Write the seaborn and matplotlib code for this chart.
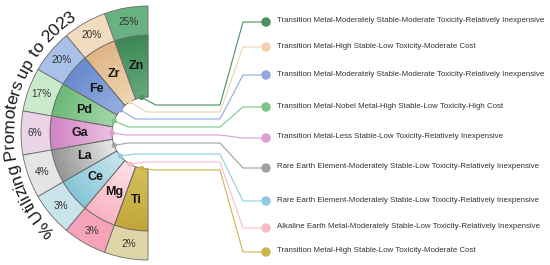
import numpy as np
import pandas as pd
import seaborn as sns
import matplotlib.pyplot as plt
from matplotlib.colors import to_rgb
from matplotlib.font_manager import FontProperties

# --- data ---------------------------------------------------------------
elements = ["Zn", "Zr", "Fe", "Pd", "Ga", "La", "Ce", "Mg", "Ti"]
usage_pct = [25, 20, 20, 17, 6, 4, 3, 3, 2]
descriptions = [
    "Transition Metal-Moderately Stable-Moderate Toxicity-Relatively Inexpensive",
    "Transition Metal-High Stable-Low Toxicity-Moderate Cost",
    "Transition Metal-Moderately Stable-Moderate Toxicity-Relatively Inexpensive",
    "Transition Metal-Nobel Metal-High Stable-Low Toxicity-High Cost",
    "Transition Metal-Less Stable-Low Toxicity-Relatively Inexpensive",
    "Rare Earth Element-Moderately Stable-Low Toxicity-Relatively Inexpensive",
    "Rare Earth Element-Moderately Stable-Low Toxicity-Relatively Inexpensive",
    "Alkaline Earth Metal-Moderately Stable-Low Toxicity-Relatively Inexpensive",
    "Transition Metal-High Stable-Low Toxicity-Moderate Cost",
]
title_text = "% Utilizing Promoters up to 2023"

# colours (inner ring dark edge / light hub side, outer ring, legend dot)
inner_dark = ["#3e8858", "#dfb684", "#6a8ad0", "#6cba78", "#d185c4",
              "#979797", "#86c6d8", "#f8b4c4", "#c2a63a"]
inner_light = ["#62a97a", "#efd5b2", "#93addf", "#a2d6a8", "#ebbfe2",
               "#e6e6e6", "#c6e5ec", "#fde0e7", "#d4bf5c"]
outer_colors = ["#68b282", "#f1dcbf", "#a9c1e8", "#c9ebcb", "#ebd4e7",
                "#e5e5e5", "#c9e4ea", "#f6a3b9", "#e0d5a6"]
dot_colors = ["#4a8f5f", "#eed3ae", "#8fa9de", "#7cc487", "#dc9ed3",
              "#a2a2a2", "#8ecbe0", "#f8bcc9", "#cdb54c"]

# --- layout (pixels) ----------------------------------------------------
W, H = 550, 265
CX, CY = 148, 133
R_HUB, R_MID, R_OUT = 36, 98, 127
R_LIM = R_OUT + 2
row_y = [22, 47, 75, 107, 138, 168, 201, 228, 252]
run_y = [105, 112, 119, 127, 135, 143, 154, 162, 170]
DOT_X, TEXT_X, BEND_X, JOIN_X = 266, 277, 220, 243

sns.set_theme(style="white")
plt.rcParams["font.family"] = ["Liberation Sans", "DejaVu Sans"]

fig = plt.figure(figsize=(W / 100, H / 100), dpi=100)
fig.patch.set_facecolor("white")

# half donut on a polar axes
pax = fig.add_axes([(CX - R_LIM) / W, (H - CY - R_LIM) / H,
                    2 * R_LIM / W, 2 * R_LIM / H], projection="polar")
pax.set_theta_zero_location("N")
pax.set_theta_direction(1)
pax.set_ylim(0, R_LIM)
pax.axis("off")

n = len(elements)
seg = np.pi / n
theta = (np.arange(n) + 0.5) * seg

# inner ring with a radial shading
steps = 14
edges = np.linspace(R_HUB, R_MID, steps + 1)
for k in range(steps):
    t = k / (steps - 1)
    cols = [tuple((1 - t) * np.array(to_rgb(lo)) + t * np.array(to_rgb(hi)))
            for lo, hi in zip(inner_light, inner_dark)]
    pax.bar(theta, edges[k + 1] - edges[k], width=seg, bottom=edges[k],
            color=cols, edgecolor=cols, linewidth=0.6)
pax.bar(theta, R_MID - R_HUB, width=seg, bottom=R_HUB, color="none",
        edgecolor="#6a6a6a", linewidth=0.6)
pax.bar(theta, R_OUT - R_MID, width=seg, bottom=R_MID, color=outer_colors,
        edgecolor="#6a6a6a", linewidth=0.6)

for th, el, p in zip(theta, elements, usage_pct):
    pax.text(th, 68, el, ha="center", va="center", fontsize=9,
             fontweight="bold", color="#151515")
    pax.text(th, 113, f"{p}%", ha="center", va="center", fontsize=7.2,
             color="#333333")

# overlay in pixel coordinates
ax = fig.add_axes([0, 0, 1, 1])

hub_x = CX - R_HUB * np.sin(theta)
hub_y = CY - R_HUB * np.cos(theta)

for i in range(n):
    ex = max(hub_x[i] + 14, hub_x[i] + abs(run_y[i] - hub_y[i]) * 1.6)
    xs = [hub_x[i], ex, BEND_X, JOIN_X, DOT_X]
    ys = [hub_y[i], run_y[i], run_y[i], row_y[i], row_y[i]]
    ax.plot(xs, ys, color=dot_colors[i], lw=0.8, solid_capstyle="round",
            zorder=2)

pal = dict(zip(elements, dot_colors))
hub_df = pd.DataFrame({"x": hub_x, "y": hub_y, "element": elements})
sns.scatterplot(data=hub_df, x="x", y="y", hue="element", palette=pal,
                s=14, edgecolor="none", legend=False, ax=ax, zorder=3)

leg_df = pd.DataFrame({"x": [DOT_X] * n, "y": row_y, "element": elements})
sns.scatterplot(data=leg_df, x="x", y="y", hue="element", palette=pal,
                s=46, edgecolor="none", legend=False, ax=ax, zorder=3)
ax.set_xlim(0, W)
ax.set_ylim(H, 0)
ax.axis("off")

for y, d in zip(row_y, descriptions):
    ax.text(TEXT_X, y - 1, d, ha="left", va="center", fontsize=5.7,
            color="#333333")

# curved title along the outer rim
renderer = fig.canvas.get_renderer()
prop = FontProperties(family=["Liberation Sans", "DejaVu Sans"], size=12.5)


def width_px(s):
    w_ref, _, _ = renderer.get_text_width_height_descent("l", prop, ismath=False)
    w, _, _ = renderer.get_text_width_height_descent(s + "l", prop, ismath=False)
    return w - w_ref


R_TXT = 139
total = width_px(title_text)
phi_mid = np.deg2rad(174.5)
phi_start = phi_mid + total / 2 / R_TXT
for i, ch in enumerate(title_text):
    a = width_px(title_text[:i]) if i else 0.0
    b = width_px(title_text[:i + 1])
    phi = phi_start - (a + b) / 2 / R_TXT
    x = CX + R_TXT * np.cos(phi)
    y = CY - R_TXT * np.sin(phi)
    ax.text(x, y, ch, fontproperties=prop, color="#1a1a1a", ha="center",
            va="center", rotation=np.rad2deg(phi) - 90,
            rotation_mode="anchor")

fig.savefig("out.png", dpi=100)
